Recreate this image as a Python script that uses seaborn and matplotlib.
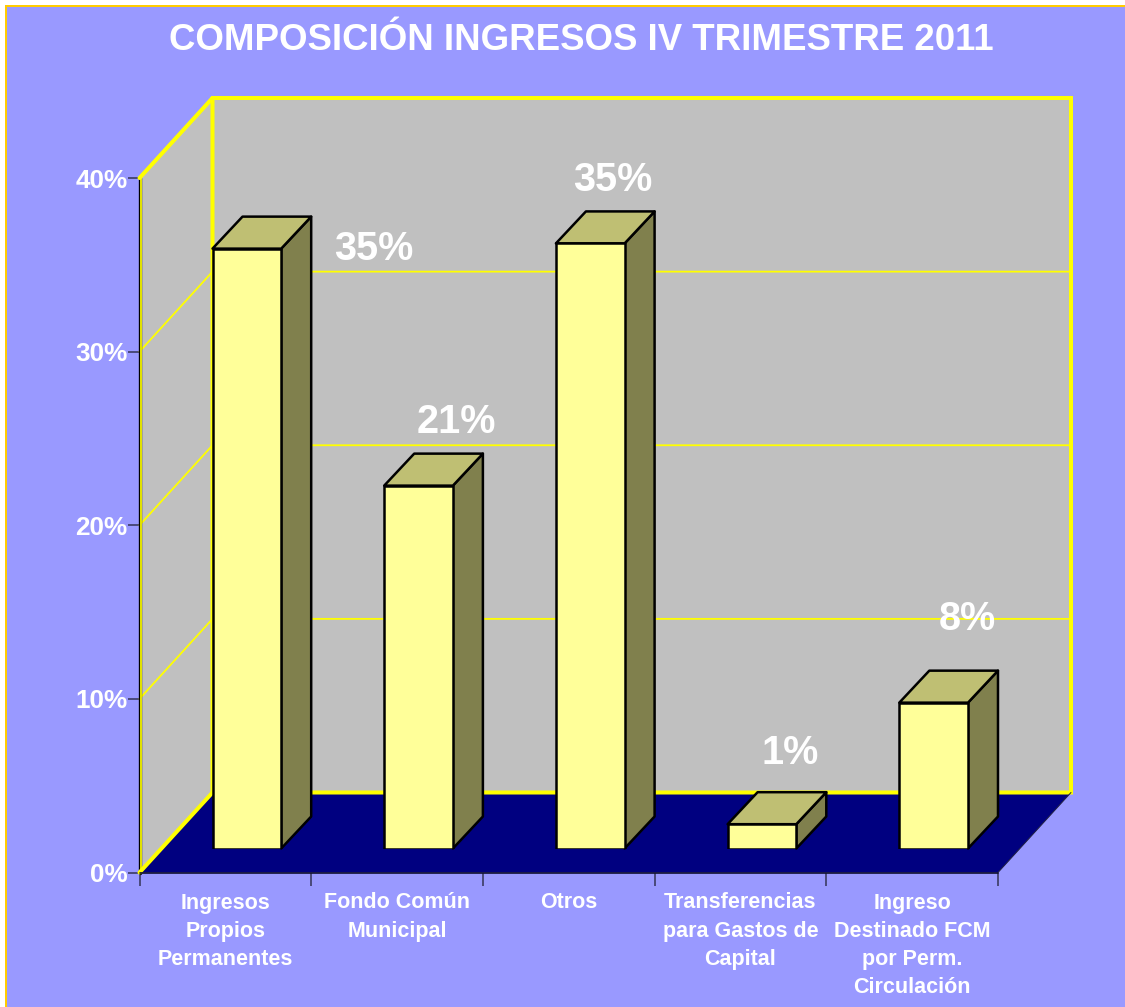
import matplotlib
matplotlib.use("Agg")
import matplotlib.pyplot as plt
from matplotlib.patches import Polygon, Rectangle
from matplotlib.ticker import FuncFormatter
import pandas as pd
import seaborn as sns

# ---- data ----
categories = ["Ingresos\nPropios\nPermanentes", "Fondo Común\nMunicipal", "Otros",
              "Transferencias\npara Gastos de\nCapital",
              "Ingreso\nDestinado FCM\npor Perm.\nCirculación"]
values = [34.55, 20.9, 34.85, 1.4, 8.4]
value_labels = ["35%", "21%", "35%", "1%", "8%"]
y_ticks = [0, 10, 20, 30, 40]
title = "COMPOSICIÓN INGRESOS IV TRIMESTRE 2011"

# ---- layout (pixels of the 1125x1007 canvas) ----
W, H = 1125, 1007
LEFT, RIGHT, BOTTOM, TOP = 139.5, 998.0, 872.5, 178.0
WALL_DX, WALL_DY = 73.0, 80.0
BAR_DX, BAR_DY = 21.5, 24.0
DEPTH_DX, DEPTH_DY = 30.0, 32.0
label_offsets = [(127, 0), (38, 64), (23, 63), (28, 71), (34, 84)]
PX = 72 / 100

BG, YEL, GRAY, NAVY = "#9999FF", "#FFFF00", "#C0C0C0", "#000080"
FRONT, SIDE, CAP = "#FFFF99", "#80804D", "#BFBF73"
TICK = "#3C3C64"

sns.set_theme(style="white")
plt.rcParams["font.family"] = ["Liberation Sans", "DejaVu Sans"]
plt.rcParams["font.weight"] = "bold"

fig = plt.figure(figsize=(W / 100, H / 100), dpi=100, facecolor=BG)


def rect(l, r, b, t):
    return [l / W, 1 - b / H, (r - l) / W, (b - t) / H]


ax = fig.add_axes(rect(LEFT, RIGHT, BOTTOM, TOP))
ax.set_xlim(-0.5, 4.5)
ax.set_ylim(0, 40)
ax.patch.set_visible(False)
for s in ax.spines.values():
    s.set_visible(False)

ux = (RIGHT - LEFT) / 5      # px per category
uy = (BOTTOM - TOP) / 40     # px per percent
wx, wy = WALL_DX / ux, WALL_DY / uy
x0, x1 = -0.5, 4.5


def poly(a, pts, **kw):
    p = Polygon(pts, closed=True, clip_on=False, **kw)
    a.add_patch(p)
    return p


# walls and floor
poly(ax, [(x0, 0), (x0 + wx, wy), (x0 + wx, 40 + wy), (x0, 40)], fc=GRAY, ec="none", zorder=1)
poly(ax, [(x0 + wx, wy), (x1 + wx, wy), (x1 + wx, 40 + wy), (x0 + wx, 40 + wy)], fc=GRAY, ec="none", zorder=1)
poly(ax, [(x0, 0), (x1, 0), (x1 + wx, wy), (x0 + wx, wy)], fc=NAVY, ec="none", zorder=1.5)

# grid lines on both walls
for v in y_ticks[1:-1]:
    ax.plot([x0, x0 + wx, x1 + wx], [v, v + wy, v + wy], color=YEL, lw=1.3, clip_on=False, zorder=2)

# wall outlines
ax.plot([x0, x0], [0, 40], color="#000000", lw=2.4, clip_on=False, zorder=2)
ax.plot([x0 + 1.2 / ux, x0 + 1.2 / ux], [0, 40], color="#E8E800", lw=1.4, clip_on=False, zorder=2.1)
ax.plot([x0, x0 + wx, x1 + wx, x1 + wx, x0 + wx, x0 + wx], [40, 40 + wy, 40 + wy, wy, wy, 40 + wy],
        color=YEL, lw=2.9, clip_on=False, zorder=2.2, solid_joinstyle="miter")
ax.plot([x0, x0 + wx], [0, wy], color=YEL, lw=2.9, clip_on=False, zorder=2.2)
ax.plot([x1, x1 + wx], [0, wy], color="#202040", lw=0.7, clip_on=False, zorder=2.2)
ax.plot([x0, x1], [0, 0], color="#101030", lw=1.2, clip_on=False, zorder=2.3)

# axis ticks and labels
ax.set_yticks(y_ticks)
ax.yaxis.set_major_formatter(FuncFormatter(lambda v, _: f"{v:.0f}%"))
ax.tick_params(axis="y", left=True, length=12 * PX, width=1.2, color=TICK, pad=0,
               labelcolor="white", labelsize=18.8)
ax.set_xticks([i - 0.5 for i in range(6)])
ax.set_xticklabels([])
ax.tick_params(axis="x", which="major", bottom=True, length=13 * PX, width=1.2, color=TICK)
ax.set_xticks(range(5), minor=True)
ax.set_xticklabels(categories, minor=True, color="white", fontsize=15.5, fontweight="bold",
                   linespacing=1.44, va="top")
ax.tick_params(axis="x", which="minor", bottom=False, length=0, pad=20 * PX)

# bars: second axes, shifted into the depth of the floor
bar_ax = fig.add_axes(rect(LEFT + BAR_DX, RIGHT + BAR_DX, BOTTOM - BAR_DY, TOP - BAR_DY))
bar_ax.patch.set_visible(False)
df = pd.DataFrame({"categoria": categories, "valor": values})
sns.barplot(data=df, x="categoria", y="valor", ax=bar_ax, color=FRONT, saturation=1,
            width=0.4, edgecolor="black", linewidth=1.8, zorder=5)
bar_ax.set_xlim(-0.5, 4.5)
bar_ax.set_ylim(0, 40)
bar_ax.axis("off")

dx, dy = DEPTH_DX / ux, DEPTH_DY / uy
for bar in bar_ax.patches[:5]:
    l, r, t = bar.get_x(), bar.get_x() + bar.get_width(), bar.get_height()
    poly(bar_ax, [(r, 0), (r + dx, dy), (r + dx, t + dy), (r, t)], fc=SIDE, ec="black", lw=1.8, zorder=4, joinstyle="round")
    poly(bar_ax, [(l, t), (l + dx, t + dy), (r + dx, t + dy), (r, t)], fc=CAP, ec="black", lw=1.8, zorder=4, joinstyle="round")

for i, (v, lab, off) in enumerate(zip(values, value_labels, label_offsets)):
    bar_ax.annotate(lab, xy=(i, v), xytext=(off[0] * PX, off[1] * PX), textcoords="offset points",
                    ha="center", va="center", color="white", fontsize=28.5, fontweight="bold",
                    annotation_clip=False, zorder=6)

fig.text(581 / W, 1 - 41 / H, title, ha="center", va="center", color="white", fontsize=26.4, fontweight="bold")

# outer frame: white margin, then a thin orange-yellow rule on top and left
fig.add_artist(Rectangle((0, 1 - 5 / H), 1, 5 / H, transform=fig.transFigure, fc="white", ec="none"))
fig.add_artist(Rectangle((0, 0), 5 / W, 1, transform=fig.transFigure, fc="white", ec="none"))
fig.add_artist(Rectangle((5 / W, 1 - 7 / H), 1, 2 / H, transform=fig.transFigure, fc="#FFCC00", ec="none"))
fig.add_artist(Rectangle((5 / W, 0), 2 / W, 1 - 5 / H, transform=fig.transFigure, fc="#FFCC00", ec="none"))

fig.savefig("out.png", dpi=100, facecolor=BG)
